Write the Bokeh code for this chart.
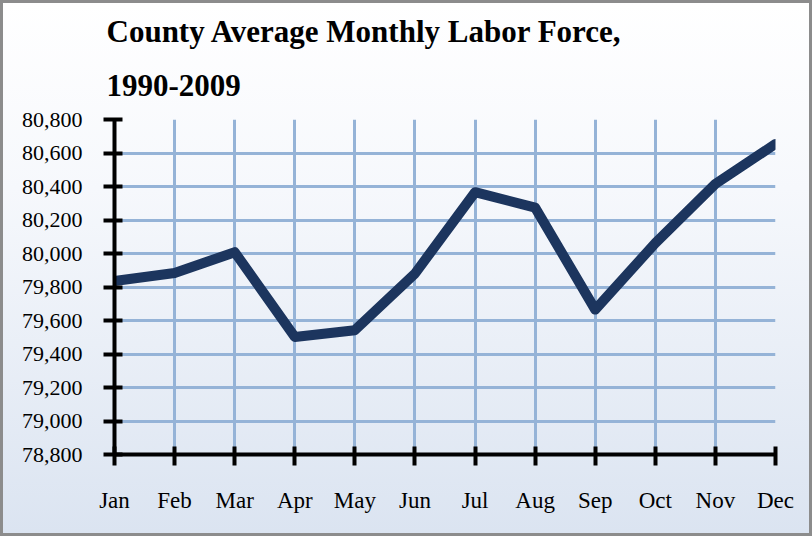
from bokeh.plotting import figure
from bokeh.models import Range1d, FixedTicker, NumeralTickFormatter, Title
from bokeh.embed import file_html
from bokeh.resources import INLINE

months = ["Jan", "Feb", "Mar", "Apr", "May", "Jun",
          "Jul", "Aug", "Sep", "Oct", "Nov", "Dec"]
labor_force = [79836, 79884, 80008, 79502, 79542, 79880,
               80366, 80274, 79665, 80062, 80416, 80654]
y_ticks = [78800, 79000, 79200, 79400, 79600, 79800,
           80000, 80200, 80400, 80600, 80800]
title_line1 = "County Average Monthly Labor Force,"
title_line2 = "1990-2009"

x_idx = list(range(len(months)))

FONT = "Liberation Serif"

p = figure(width=812, height=536, output_backend="svg", toolbar_location=None,
           x_range=Range1d(x_idx[0], x_idx[-1]),
           y_range=Range1d(y_ticks[0], y_ticks[-1]),
           min_border_left=111, min_border_right=40,
           min_border_top=116, min_border_bottom=85)

p.styles = {"background": "linear-gradient(to bottom, #ffffff 0%, #f6f8fc 35%, #dbe4f1 100%)",
            "border": "3px solid #8c8c8c"}
p.border_fill_alpha = 0
p.background_fill_alpha = 0
p.outline_line_color = None

def make_title(text, standoff):
    return Title(text=text, align="left", offset=-8, standoff=standoff,
                 text_font=FONT, text_font_size="31px", text_font_style="bold",
                 text_color="#000000")

p.add_layout(make_title(title_line2, 48), "above")
p.add_layout(make_title(title_line1, 0), "above")

for ax in (p.xaxis[0], p.yaxis[0]):
    ax.axis_line_color = "black"
    ax.axis_line_width = 4
    ax.major_tick_line_color = "black"
    ax.major_tick_line_width = 4
    ax.major_tick_out = 11
    ax.major_tick_in = 8
    ax.minor_tick_line_color = None
    ax.major_label_text_font = FONT
    ax.major_label_text_color = "#000000"

p.xaxis.ticker = FixedTicker(ticks=x_idx)
p.xaxis.major_label_overrides = {i: m for i, m in enumerate(months)}
p.xaxis.major_label_standoff = 22
p.xaxis.major_label_text_font_size = "23px"

p.yaxis.ticker = FixedTicker(ticks=y_ticks)
p.yaxis.formatter = NumeralTickFormatter(format="0,0")
p.yaxis.major_label_standoff = 21
p.yaxis.major_label_text_font_size = "22px"

for g in (p.xgrid[0], p.ygrid[0]):
    g.grid_line_color = "#95b3d7"
    g.grid_line_width = 3
    g.grid_line_alpha = 1.0

p.line(x_idx, labor_force, line_color="#1c355e", line_width=10,
       line_join="round", line_cap="round")

open("out.html", "w").write(file_html(p, INLINE))
